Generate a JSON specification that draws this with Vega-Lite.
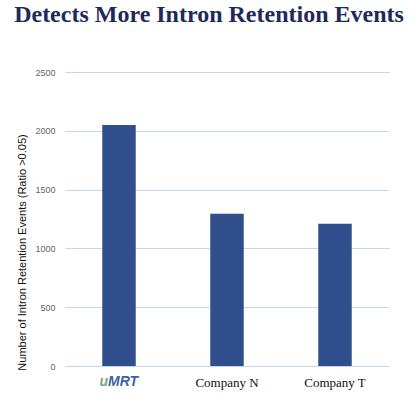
{
  "$schema": "https://vega.github.io/schema/vega-lite/v6.json",
  "width": 324,
  "height": 294,
  "autosize": {"type": "none"},
  "padding": {"left": 65, "top": 72, "right": 30, "bottom": 30},
  "background": "white",
  "title": {
    "text": "Detects More Intron Retention Events",
    "font": "Liberation Serif",
    "fontSize": 24,
    "fontWeight": "bold",
    "color": "#1f2a5c",
    "anchor": "middle",
    "dx": -18,
    "offset": 22,
    "baseline": "alphabetic"
  },
  "config": {
    "view": {"stroke": null}
  },
  "data": {
    "values": [
      {"category": "uMRT", "value": 2050},
      {"category": "Company N", "value": 1295},
      {"category": "Company T", "value": 1210}
    ]
  },
  "encoding": {
    "x": {
      "field": "category",
      "type": "nominal",
      "sort": null,
      "scale": {"paddingInner": 0.69, "paddingOuter": 0.345},
      "axis": {
        "title": null,
        "labelAngle": 0,
        "ticks": false,
        "domainColor": "#c9d6ea",
        "labelFont": "Liberation Serif",
        "labelFontSize": 13,
        "labelColor": "#111111",
        "labelBaseline": "alphabetic",
        "labelPadding": 20,
        "labelExpr": "datum.value == 'uMRT' ? '' : datum.label"
      }
    }
  },
  "layer": [
    {
      "mark": {"type": "bar", "color": "#304d8c"},
      "encoding": {
        "y": {
          "field": "value",
          "type": "quantitative",
          "scale": {"domain": [0, 2500], "nice": false},
          "axis": {
            "title": "Number of Intron Retention Events (Ratio >0.05)",
            "titleFont": "Liberation Sans",
            "titleFontSize": 11,
            "titleFontWeight": "normal",
            "titleColor": "#111111",
            "titleAngle": -90,
            "titleX": -43,
            "titleY": 180,
            "titleBaseline": "middle",
            "titleAlign": "center",
            "values": [0, 500, 1000, 1500, 2000, 2500],
            "format": "d",
            "ticks": false,
            "domain": false,
            "gridColor": "#c9d6ea",
            "labelFont": "Liberation Sans",
            "labelFontSize": 9,
            "labelColor": "#666666",
            "labelPadding": 10
          }
        }
      }
    },
    {
      "transform": [{"filter": "datum.category == 'uMRT'"}],
      "mark": {
        "type": "text",
        "text": "u",
        "align": "right",
        "baseline": "alphabetic",
        "dx": -11,
        "dy": 20,
        "font": "Liberation Sans",
        "fontSize": 14,
        "fontStyle": "italic",
        "fontWeight": "bold",
        "color": "#6fae73"
      },
      "encoding": {"y": {"datum": 0}}
    },
    {
      "transform": [{"filter": "datum.category == 'uMRT'"}],
      "mark": {
        "type": "text",
        "text": "MRT",
        "align": "left",
        "baseline": "alphabetic",
        "dx": -11,
        "dy": 20,
        "font": "Liberation Sans",
        "fontSize": 14,
        "fontStyle": "italic",
        "fontWeight": "bold",
        "color": "#3d62a8"
      },
      "encoding": {"y": {"datum": 0}}
    }
  ]
}
